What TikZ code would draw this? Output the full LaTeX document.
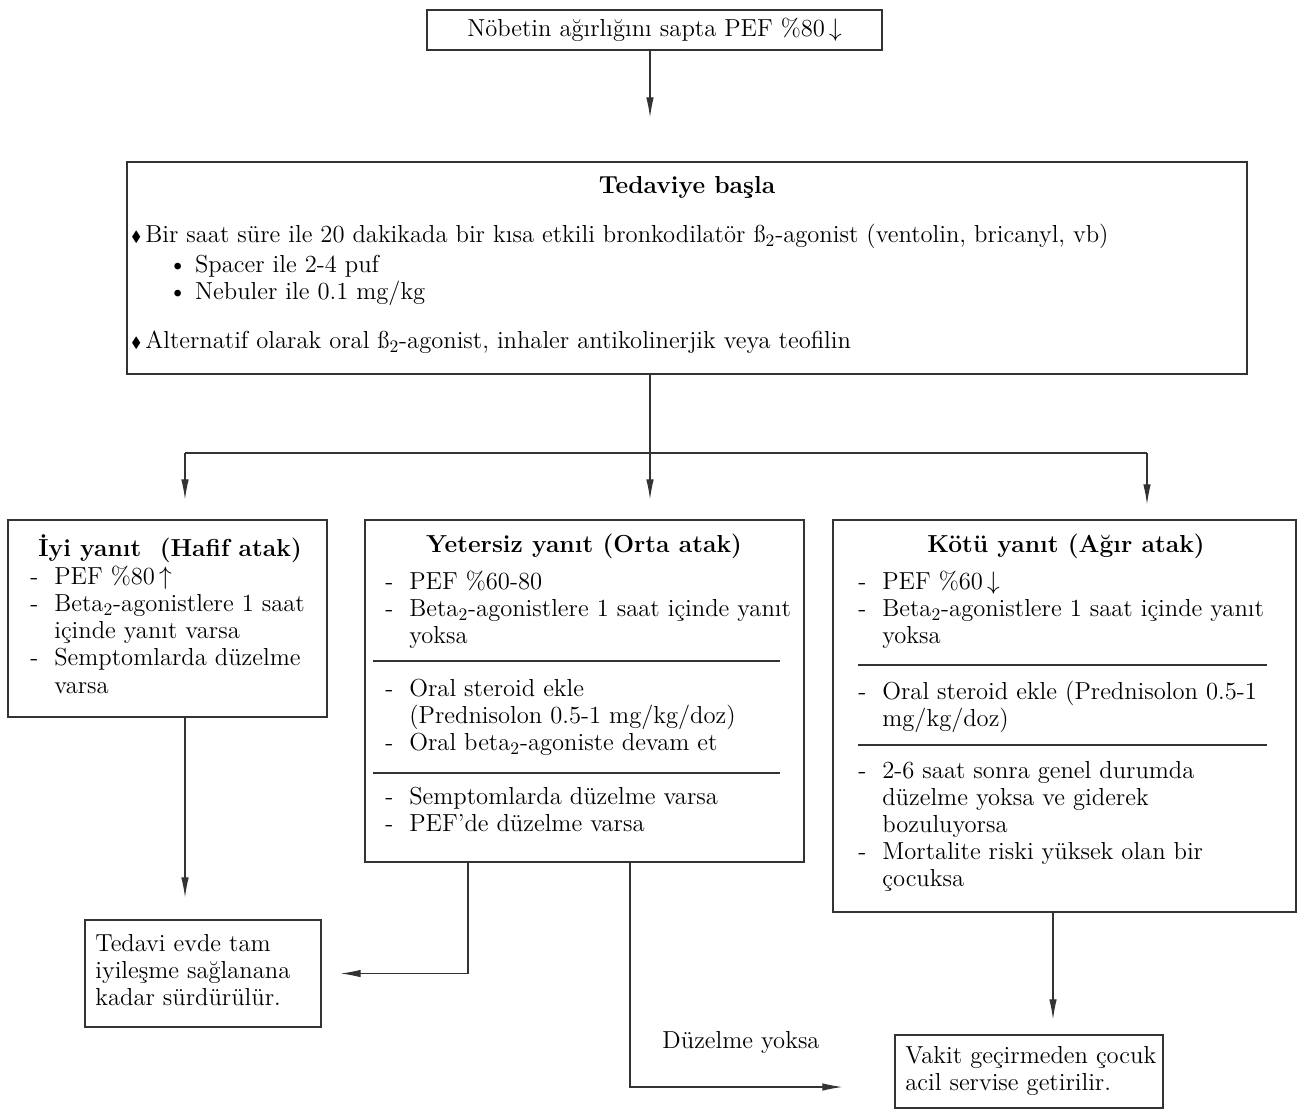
\documentclass[tikz,border=0pt]{standalone}
\usepackage{amsmath,amssymb}
\usepackage{fontspec}
\usepackage{tikz}
\usetikzlibrary{arrows.meta,positioning,fit,calc}
\newcommand{\dsh}{\makebox[0.48cm][l]{-}}
\newcommand{\ind}{\hspace*{0.48cm}}
\newcommand{\elmas}{\raisebox{0.15ex}{\scalebox{0.6}{$\blacklozenge$}}\,}

\begin{document}
\begin{tikzpicture}[
    x=0.02cm, y=-0.02cm,
    box/.style={draw=black!80, line width=0.7pt, inner sep=0pt},
    txt/.style={anchor=north west, inner sep=0pt, align=left, font=\fontsize{14}{15.4}\selectfont},
    ttl/.style={inner sep=0pt, font=\fontsize{14}{15.4}\selectfont\bfseries},
    sep/.style={draw=black!80, line width=0.6pt},
    arr/.style={draw=black!80, line width=0.6pt, -{Latex[length=4mm,width=1.5mm]}}
  ]
  \useasboundingbox (0,0) rectangle (1301,1110);
  % boxes
  \node[box, fit={(427,10) (882,50)}] (sapta) {};
  \node[box, fit={(127,162) (1247,374)}] (basla) {};
  \node[box, fit={(8,520) (327,717)}] (iyi) {};
  \node[box, fit={(365,520) (804,862)}] (orta) {};
  \node[box, fit={(833,520) (1296,912)}] (kotu) {};
  \node[box, fit={(85,920) (321,1027)}] (evde) {};
  \node[box, fit={(895,1035) (1163,1108)}] (acil) {};
  \node[txt, anchor=center] (saptaT) at (sapta.center) {Nöbetin ağırlığını sapta PEF \%80\,$\downarrow$};
  \node[txt, anchor=west] (evdeT) at (95,970) {Tedavi evde tam\\iyileşme sağlanana\\kadar sürdürülür.};
  \node[txt, anchor=west] (acilT) at (905,1071) {Vakit geçirmeden çocuk\\acil servise getirilir.};

  % Tedaviye basla
  \node[ttl] (baslaT) at (687,187) {Tedaviye başla};
  \node[txt] (baslaA) at (131,224) {\elmas Bir saat süre ile 20 dakikada bir kısa etkili bronkodilatör ß$_2$-agonist (ventolin, bricanyl, vb)};
  \node[txt] (baslaB) at (168,255) {\textbullet\ Spacer ile 2-4 puf\\\textbullet\ Nebuler ile 0.1 mg/kg};
  \node[txt] (baslaC) at (131,331) {\elmas Alternatif olarak oral ß$_2$-agonist, inhaler antikolinerjik veya teofilin};

  % iyi yanit
  \node[txt, font=\fontsize{14}{15.4}\selectfont\bfseries] (iyiT) at (38,534) {İyi yanıt\ \ (Hafif atak)};
  \node[txt] (iyiL) at (30,566) {\dsh PEF \%80\,$\uparrow$\\\dsh Beta$_2$-agonistlere 1 saat\\\ind içinde yanıt varsa\\\dsh Semptomlarda düzelme\\\ind varsa};

  % yetersiz yanit
  \node[ttl] (ortaT) at (584,546) {Yetersiz yanıt (Orta atak)};
  \node[txt] (ortaA) at (385,571) {\dsh PEF \%60-80\\\dsh Beta$_2$-agonistlere 1 saat içinde yanıt\\\ind yoksa};
  \draw[sep] (373,661) -- (780,661);
  \node[txt] (ortaB) at (385,679) {\dsh Oral steroid ekle\\\ind (Prednisolon 0.5-1 mg/kg/doz)\\\dsh Oral beta$_2$-agoniste devam et};
  \draw[sep] (373,773) -- (780,773);
  \node[txt] (ortaC) at (385,787) {\dsh Semptomlarda düzelme varsa\\\dsh PEF’de düzelme varsa};

  % kotu yanit
  \node[ttl] (kotuT) at (1066,546) {Kötü yanıt (Ağır atak)};
  \node[txt] (kotuA) at (858,571) {\dsh PEF \%60\,$\downarrow$\\\dsh Beta$_2$-agonistlere 1 saat içinde yanıt\\\ind yoksa};
  \draw[sep] (858,665) -- (1267,665);
  \node[txt] (kotuB) at (858,681) {\dsh Oral steroid ekle (Prednisolon 0.5-1\\\ind mg/kg/doz)};
  \draw[sep] (858,745) -- (1267,745);
  \node[txt] (kotuC) at (858,761) {\dsh 2-6 saat sonra genel durumda\\\ind düzelme yoksa ve giderek\\\ind bozuluyorsa\\\dsh Mortalite riski yüksek olan bir\\\ind çocuksa};

  % connectors
  \coordinate (bol) at (650,453);
  \coordinate (bolL) at (185,453);
  \coordinate (bolR) at (1147,453);
  \coordinate (ortaSol) at (468,862);
  \coordinate (ortaSag) at (630,862);
  \coordinate (kotuAlt) at (1053,912);

  \draw[arr, shorten >=0.88cm] (bol |- sapta.south) -- (bol |- basla.north);
  \draw[arr, shorten >=0.4cm] (bol |- basla.south) -- (bol |- orta.north);
  \draw[sep] (bolL) -- (bolR);
  \draw[arr, shorten >=0.4cm] (bolL) -- (bolL |- iyi.north);
  \draw[arr, shorten >=0.3cm] (bolR) -- (bolR |- kotu.north);
  \draw[arr, shorten >=0.44cm] (bolL |- iyi.south) -- (bolL |- evde.north);
  \draw[arr, shorten >=0.38cm] (ortaSol) |- (evde.east);
  \draw[arr, shorten >=1.04cm] (ortaSag) |- ([yshift=-0.31cm]acil.west);
  \node[inner sep=0pt, font=\fontsize{14}{15.4}\selectfont] (yoksa) at (741,1042) {Düzelme yoksa};
  \draw[arr, shorten >=0.3cm] (kotuAlt) -- (kotuAlt |- acil.north);
\end{tikzpicture}
\end{document}
